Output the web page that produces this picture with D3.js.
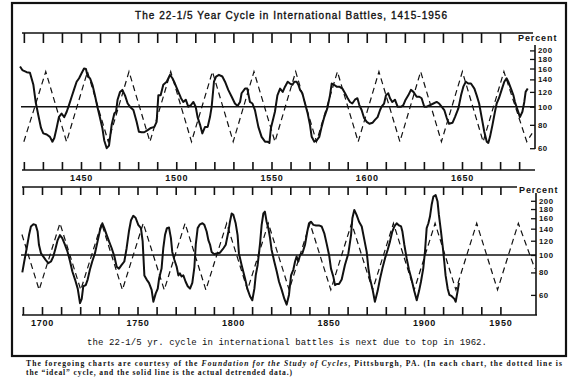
<!DOCTYPE html>
<html><head><meta charset="utf-8">
<script src="https://cdn.jsdelivr.net/npm/d3@7"></script>
<style>body{margin:0;background:#fff}svg{display:block}</style>
</head><body><svg id="c" width="580" height="381"></svg>
<script>
// ---------- DATA ----------
const titleText = "The 22-1/5 Year Cycle in International Battles, 1415-1956";
const noteText = "the 22-1/5 yr. cycle in international battles is next due to top in 1962.";
const percentTicks = [200, 180, 160, 140, 120, 100, 80, 60];

const topTickYears = [1420,1430,1440,1450,1460,1470,1480,1490,1500,1510,1520,1530,1540,1550,1560,1570,1580,1590,1600,1610,1620,1630,1640,1650,1660,1670,1680];
const topUpperTickYears = [1420,1430,1440,1450,1460,1470,1480,1490,1500,1510,1520,1530,1540,1550,1560,1570,1580,1590,1600,1610,1620,1630,1640,1650,1660,1670];
const topLabelYears = [1450, 1500, 1550, 1600, 1650];
const topLabelText = ["1450", "1500", "1550", "1600", "1650"];

const botTickYears = [1690,1700,1710,1720,1730,1740,1750,1760,1770,1780,1790,1800,1810,1820,1830,1840,1850,1860,1870,1880,1890,1900,1910,1920,1930,1940];
const botLabelYears = [1700, 1750, 1800, 1850, 1900, 1940];
const botLabelText = ["1700", "1750", "1800", "1850", "1900", "1950"];

// ideal (dashed) cycle turning points [year, percent]
const topIdeal = [[1420.0,65],[1431.5,154],[1442.4,65],[1453.4,154],[1464.3,65],[1475.2,154],[1486.2,65],[1497.1,154],[1508.0,65],[1519.0,154],[1529.9,65],[1540.8,154],[1551.8,65],[1562.7,154],[1573.6,65],[1584.6,154],[1595.5,65],[1606.4,154],[1617.4,65],[1628.3,154],[1639.2,65],[1650.2,154],[1661.1,65],[1672.0,154],[1684.0,65],[1686.8,72]];
const botIdeal = [[1689.5,130],[1698.5,64],[1709.4,150],[1720.3,64],[1731.2,150],[1742.1,64],[1753.0,150],[1764.0,64],[1774.9,150],[1785.8,64],[1796.7,150],[1807.6,64],[1818.5,150],[1829.4,64],[1840.3,150],[1851.2,64],[1862.1,150],[1873.1,64],[1884.0,150],[1894.9,64],[1905.8,150],[1916.7,64],[1927.6,150],[1938.5,64],[1949.4,150],[1958.0,84]];

// actual detrended data (solid) [year, percent]
const topActual = [[1418.0,164],[1419.2,157],[1421.5,153],[1423.2,152],[1425.0,131],[1426.2,106],[1427.6,90],[1429.0,77],[1430.2,72],[1432.0,71],[1433.7,69],[1435.0,65],[1436.0,68],[1437.2,77],[1438.4,88],[1439.8,92],[1441.2,88],[1442.5,94],[1443.7,102],[1445.1,113],[1446.5,125],[1447.7,136],[1449.0,142],[1450.3,151],[1451.6,160],[1452.6,159],[1453.5,145],[1454.7,142],[1456.0,131],[1457.3,115],[1458.6,100],[1460.0,87],[1461.2,77],[1462.2,66],[1463.5,60],[1464.7,62],[1466.1,80],[1467.5,92],[1468.4,94],[1469.2,109],[1470.5,120],[1471.7,123],[1473.1,115],[1474.5,104],[1475.7,100],[1477.5,96],[1479.2,83],[1480.4,73.5],[1481.8,73],[1483.2,73],[1485.0,75],[1486.7,77],[1488.5,78],[1489.7,83],[1490.6,115],[1491.8,115],[1493.2,131],[1495.0,136],[1496.7,148],[1498.0,142],[1499.3,133],[1501.1,120],[1502.5,111],[1503.7,106],[1505.0,109],[1506.3,100],[1507.7,102],[1509.0,106],[1510.2,100],[1511.2,88],[1512.5,80],[1513.7,72],[1515.1,78],[1516.5,78],[1517.7,88],[1518.6,100],[1519.8,136],[1520.9,145],[1522.4,148],[1524.2,145],[1525.6,136],[1527.3,123],[1529.1,113],[1530.8,104],[1532.2,101],[1533.5,106],[1534.3,118],[1536.1,125],[1537.3,125],[1538.7,106],[1540.0,104],[1541.3,96],[1543.1,78],[1544.8,69],[1546.6,65],[1547.8,65],[1548.9,64],[1549.7,77],[1551.0,87],[1551.8,94],[1553.1,115],[1554.5,125],[1555.9,120],[1557.1,128],[1558.5,136],[1559.7,133],[1561.0,131],[1562.0,136],[1563.2,136],[1564.1,131],[1565.0,123],[1566.2,118],[1567.6,104],[1569.0,92],[1570.2,80],[1571.1,69],[1572.5,65],[1573.7,66],[1575.1,69],[1576.3,78],[1577.7,88],[1579.3,98],[1580.7,115],[1581.6,133],[1582.8,131],[1584.2,128],[1585.6,128],[1587.2,125],[1588.6,118],[1590.0,111],[1591.2,106],[1592.4,104],[1593.8,109],[1595.1,111],[1596.1,102],[1597.3,96],[1598.6,87],[1600.0,83],[1601.4,81],[1603.0,82],[1604.3,85],[1605.7,88],[1607.0,96],[1607.8,100],[1609.1,104],[1610.1,115],[1611.3,118],[1612.2,111],[1613.4,106],[1614.8,109],[1616.2,100],[1618.0,100],[1619.2,102],[1620.4,109],[1621.8,115],[1623.2,123],[1624.5,120],[1626.2,113],[1627.6,113],[1628.8,111],[1630.2,100],[1631.5,100],[1633.2,102],[1635.0,104],[1636.7,106],[1638.0,104],[1639.3,100],[1640.7,96],[1642.0,87],[1643.2,81],[1645.0,82],[1646.3,88],[1648.1,98],[1649.5,115],[1650.7,128],[1652.0,136],[1653.3,133],[1654.7,133],[1656.5,125],[1657.7,115],[1659.0,104],[1660.3,88],[1661.7,73.5],[1663.0,65],[1663.8,64],[1664.7,69],[1666.0,80],[1667.3,94],[1668.2,104],[1669.4,111],[1670.8,123],[1672.2,136],[1673.4,142],[1674.3,136],[1675.7,125],[1677.0,115],[1677.8,106],[1679.2,96],[1680.4,88],[1681.7,94],[1682.7,106],[1683.4,120],[1684.5,125]];

const botActual = [[1689.7,80],[1690.7,92],[1692.0,109],[1693.2,129],[1694.2,144],[1695.5,148],[1696.7,147],[1697.7,135],[1698.4,114],[1699.5,102],[1700.7,98],[1701.9,94],[1703.3,90],[1704.7,92],[1705.9,98],[1707.1,109],[1708.2,121],[1709.4,129],[1710.6,124],[1712.0,114],[1713.4,104],[1714.7,92],[1715.9,81],[1717.3,73],[1718.7,65],[1719.9,54],[1720.8,57],[1721.6,67],[1722.9,68],[1723.9,73],[1725.1,83],[1726.3,92],[1727.7,102],[1729.1,119],[1730.4,138],[1731.6,150],[1732.6,141],[1733.9,129],[1735.1,119],[1736.5,109],[1737.9,98],[1739.1,86],[1740.3,84],[1741.7,88],[1743.1,92],[1744.3,109],[1745.5,135],[1746.6,156],[1747.8,165],[1749.0,161],[1750.4,147],[1751.8,141],[1752.7,119],[1753.6,77],[1754.8,73],[1756.0,70],[1757.4,64],[1758.3,55],[1759.5,61],[1760.6,65],[1761.3,74],[1762.6,84],[1763.5,109],[1764.4,129],[1765.4,141],[1766.5,142],[1767.5,124],[1768.2,104],[1769.3,94],[1770.5,86],[1771.4,77],[1772.2,79],[1773.1,76],[1774.0,77],[1775.2,71],[1776.3,67],[1777.5,65],[1778.7,70],[1779.8,86],[1780.5,114],[1781.5,141],[1782.7,148],[1784.0,150],[1785.0,147],[1786.2,135],[1787.1,121],[1788.0,114],[1788.8,104],[1790.2,101],[1791.4,102],[1793.2,103],[1795.0,109],[1796.2,114],[1797.6,135],[1798.4,153],[1799.3,170],[1800.2,167],[1801.4,150],[1802.4,129],[1803.1,102],[1804.5,88],[1806.3,74],[1807.5,65],[1808.9,59],[1810.1,56],[1811.2,65],[1811.9,77],[1812.9,88],[1814.1,114],[1815.0,147],[1815.9,170],[1816.7,174],[1817.6,153],[1818.5,141],[1819.4,124],[1820.2,107],[1821.6,92],[1822.9,81],[1824.1,71],[1825.5,64],[1826.9,57],[1828.1,53],[1829.3,60],[1830.4,77],[1831.6,83],[1832.5,92],[1833.3,98],[1834.2,92],[1835.1,100],[1836.3,102],[1837.7,114],[1838.9,135],[1839.8,150],[1840.8,153],[1842.1,147],[1843.5,146],[1845.0,146],[1846.4,144],[1847.8,132],[1849.0,116],[1850.3,100],[1851.3,84],[1852.5,76],[1853.4,68],[1854.3,69],[1855.5,69],[1856.9,73],[1858.6,88],[1860.4,102],[1861.8,129],[1862.5,160],[1863.5,178],[1864.7,167],[1866.0,153],[1867.4,144],[1868.8,121],[1870.0,104],[1870.9,84],[1871.7,74],[1873.0,65],[1874.3,55],[1875.7,63],[1877.0,74],[1878.2,84],[1879.6,96],[1881.0,107],[1882.2,119],[1883.4,135],[1884.5,144],[1885.7,150],[1886.9,146],[1888.0,144],[1888.7,135],[1889.7,114],[1890.9,96],[1892.1,83],[1893.5,73],[1894.9,63],[1896.2,56],[1897.4,63],[1898.4,71],[1899.6,84],[1900.5,104],[1901.4,141],[1902.3,150],[1903.1,163],[1904.0,190],[1904.9,211],[1906.1,215],[1907.1,198],[1907.8,167],[1908.9,135],[1909.9,109],[1910.6,92],[1911.3,77],[1912.4,65],[1913.3,60],[1914.5,59],[1915.9,57],[1916.6,55],[1917.6,63],[1918.3,70]];

// ---------- DRAW ----------
const svg = d3.select("#c");
svg.append("rect").attr("width",580).attr("height",381).attr("fill","#fff");

// frame
svg.append("rect").attr("x",12).attr("y",3).attr("width",554).attr("height",353)
  .attr("fill","none").attr("stroke","#111").attr("stroke-width",2.2);

svg.append("text").attr("x",291).attr("y",19).attr("text-anchor","middle")
  .attr("font-family","Liberation Sans, Arial, sans-serif").attr("font-size",10)
  .attr("stroke","#111").attr("stroke-width",0.35)
  .attr("textLength",312).attr("lengthAdjust","spacing").attr("fill","#111").text(titleText);

function panel(cfg) {
  const g = svg.append("g");
  const x = d3.scaleLinear().domain(cfg.xDomain).range(cfg.xRange);
  const y = d3.scaleLog().domain([60, 200]).range(cfg.yRange);
  const ink = "#111";

  // upper tick row
  g.append("line").attr("x1",cfg.upperLine[0]).attr("x2",cfg.upperLine[1])
    .attr("y1",cfg.upperY).attr("y2",cfg.upperY).attr("stroke",ink).attr("stroke-width",1.6);
  const up = g.append("g").attr("transform",`translate(0,${cfg.upperY})`)
    .call(d3.axisBottom(x).tickValues(cfg.upperTicks).tickSize(cfg.upperTickLen).tickFormat(""));
  up.select(".domain").remove();
  up.selectAll(".tick line").attr("stroke",ink).attr("stroke-width",1.6);

  // lower axis
  g.append("line").attr("x1",cfg.lowerLine[0]).attr("x2",cfg.lowerLine[1])
    .attr("y1",cfg.lowerY).attr("y2",cfg.lowerY).attr("stroke",ink).attr("stroke-width",1.6);
  const lo = g.append("g").attr("transform",`translate(0,${cfg.lowerY})`)
    .call(d3.axisBottom(x).tickValues(cfg.lowerTicks).tickSize(-8).tickFormat(""));
  lo.select(".domain").remove();
  lo.selectAll(".tick line").attr("stroke",ink).attr("stroke-width",1.6);
  const lab = g.append("g").attr("transform",`translate(0,${cfg.lowerY})`)
    .call(d3.axisBottom(x).tickValues(cfg.labelYears).tickSize(0).tickPadding(5)
      .tickFormat((d,i) => cfg.labelText[i]));
  lab.select(".domain").remove();
  lab.selectAll("text").attr("font-family","Liberation Sans, Arial, sans-serif")
    .attr("font-size",9).attr("font-weight","bold").attr("letter-spacing",0.8).attr("fill",ink);

  // right percent axis
  const ax = g.append("g").attr("transform",`translate(${cfg.axisX},0)`)
    .call(d3.axisRight(y).tickValues(percentTicks).tickSize(-5).tickPadding(3).tickFormat(d3.format("d")));
  ax.select(".domain").remove();
  ax.selectAll(".tick line").attr("stroke",ink).attr("stroke-width",1.3);
  ax.selectAll("text").attr("font-family","Liberation Sans, Arial, sans-serif")
    .attr("font-size",7.8).attr("font-weight","bold").attr("letter-spacing",0.5).attr("fill",ink);
  g.append("line").attr("x1",cfg.axisX).attr("x2",cfg.axisX)
    .attr("y1",cfg.axisSpan[0]).attr("y2",cfg.axisSpan[1]).attr("stroke",ink).attr("stroke-width",1.6);
  g.append("text").attr("x",cfg.axisX-17).attr("y",cfg.percentY)
    .attr("font-family","Liberation Sans, Arial, sans-serif").attr("font-size",9).attr("font-weight","bold")
    .attr("letter-spacing",0.9).attr("fill",ink).text("Percent");

  // 100 reference line
  g.append("line").attr("x1",cfg.baseStart).attr("x2",cfg.axisX)
    .attr("y1",y(100)).attr("y2",y(100)).attr("stroke",ink).attr("stroke-width",1.5);

  const line = d3.line().x(d => x(d[0])).y(d => y(d[1]));
  g.append("path").datum(cfg.ideal).attr("d",line).attr("fill","none")
    .attr("stroke",ink).attr("stroke-width",1.2).attr("stroke-dasharray","6,4");
  g.append("path").datum(cfg.actual).attr("d",line).attr("fill","none")
    .attr("stroke",ink).attr("stroke-width",2).attr("stroke-linejoin","round");
}

panel({
  xDomain:[1450,1650], xRange:[81,462], yRange:[148.2,50.4],
  upperY:33, upperLine:[22,533], upperTicks:topUpperTickYears, upperTickLen:10,
  lowerY:170, lowerLine:[22,535], lowerTicks:topTickYears,
  labelYears:topLabelYears, labelText:topLabelText,
  axisX:535, axisSpan:[45,149], percentY:41, baseStart:21,
  ideal:topIdeal, actual:topActual
});

panel({
  xDomain:[1700,1900], xRange:[42,424], yRange:[294.9,200.8],
  upperY:187, upperLine:[22,517], upperTicks:botTickYears, upperTickLen:8,
  lowerY:315, lowerLine:[22,537], lowerTicks:botTickYears,
  labelYears:botLabelYears, labelText:botLabelText,
  axisX:536, axisSpan:[193,315], percentY:193, baseStart:21,
  ideal:botIdeal, actual:botActual
});

svg.append("text").attr("x",87).attr("y",345)
  .attr("font-family","Liberation Mono, DejaVu Sans Mono, monospace").attr("font-size",9)
  .attr("textLength",400).attr("lengthAdjust","spacing").attr("fill","#111").text(noteText);

const cap1 = svg.append("text").attr("x",26).attr("y",366)
  .attr("font-family","Liberation Serif, Times New Roman, serif").attr("font-size",7.6).attr("font-weight","bold")
  .attr("textLength",536).attr("lengthAdjust","spacing").attr("fill","#111");
cap1.append("tspan").text("The foregoing charts are courtesy of the ");
cap1.append("tspan").attr("font-style","italic").text("Foundation for the Study of Cycles");
cap1.append("tspan").text(", Pittsburgh, PA. (In each chart, the dotted line is");
svg.append("text").attr("x",26).attr("y",375)
  .attr("font-family","Liberation Serif, Times New Roman, serif").attr("font-size",7.6).attr("font-weight","bold")
  .attr("textLength",266).attr("lengthAdjust","spacing").attr("fill","#111")
  .text("the \u201Cideal\u201D cycle, and the solid line is the actual detrended data.)");
</script></body></html>
